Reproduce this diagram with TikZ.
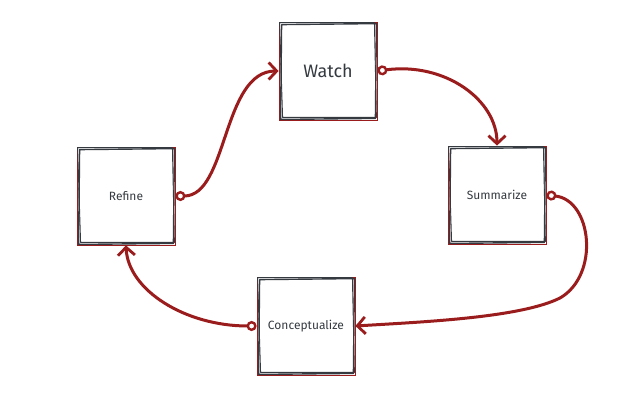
\documentclass[tikz,border=0pt]{standalone}
\usepackage{fontspec}
\setmainfont{Fira Sans}
\usetikzlibrary{arrows.meta}

\definecolor{inkgrey}{HTML}{343A40}
\definecolor{loopred}{HTML}{9B1C1C}

\begin{document}
\begin{tikzpicture}[x=1pt, y=-1pt,
    stage/.style={draw=loopred, line width=0.8pt, minimum width=98pt,
                  minimum height=98pt, text=inkgrey, inner sep=0pt,
                  font=\fontsize{12}{14}\selectfont},
    sketch/.style={draw=inkgrey, line width=1.4pt, line join=round, line cap=round},
    flow/.style={draw=loopred, line width=3pt, line cap=round,
                 {Circle[open, length=10pt, width=10pt, fill=white, line width=2.4pt]}-{Straight Barb[length=8pt, width=17pt, line width=2.8pt]}}
  ]
    \useasboundingbox (0,0) rectangle (632,400);

    % the four stages
    \node[stage, font=\fontsize{18}{20}\selectfont] (watch) at (328,71) {Watch};
    \node[stage] (summarize)            at (497,195) {Summarize};
    \node[stage] (concept)              at (306,326) {Conceptualize};
    \node[stage] (refine)               at (126,196) {Refine};

    % rough double outline
    \foreach \n in {watch,summarize,concept,refine} {
      \draw[sketch] ([shift={(3,3)}]\n.north west) -- ([shift={(-1,2)}]\n.north east)
                    -- ([shift={(-2,-2)}]\n.south east) -- ([shift={(2,-1)}]\n.south west) -- cycle;
      \draw[sketch, line width=0.9pt] ([shift={(1,1)}]\n.north west) -- ([shift={(-3,1)}]\n.north east)
                    -- ([shift={(-1,-3)}]\n.south east) -- ([shift={(4,-3)}]\n.south west) -- cycle;
    }

    % connectors
    \draw[flow] (watch.east) .. controls (445,62) and (497,100) .. (summarize.north);
    \draw[flow] (summarize.east) .. controls (592,200) and (600,275) .. (560,298)
                .. controls (520,318) and (420,322) .. (concept.east);
    \draw[flow] (concept.west) .. controls (185,326) and (128,290) .. (refine.south);
    \draw[flow] (refine.east) .. controls (228,196) and (222,71) .. (watch.west);
  \end{tikzpicture}
\end{document}
